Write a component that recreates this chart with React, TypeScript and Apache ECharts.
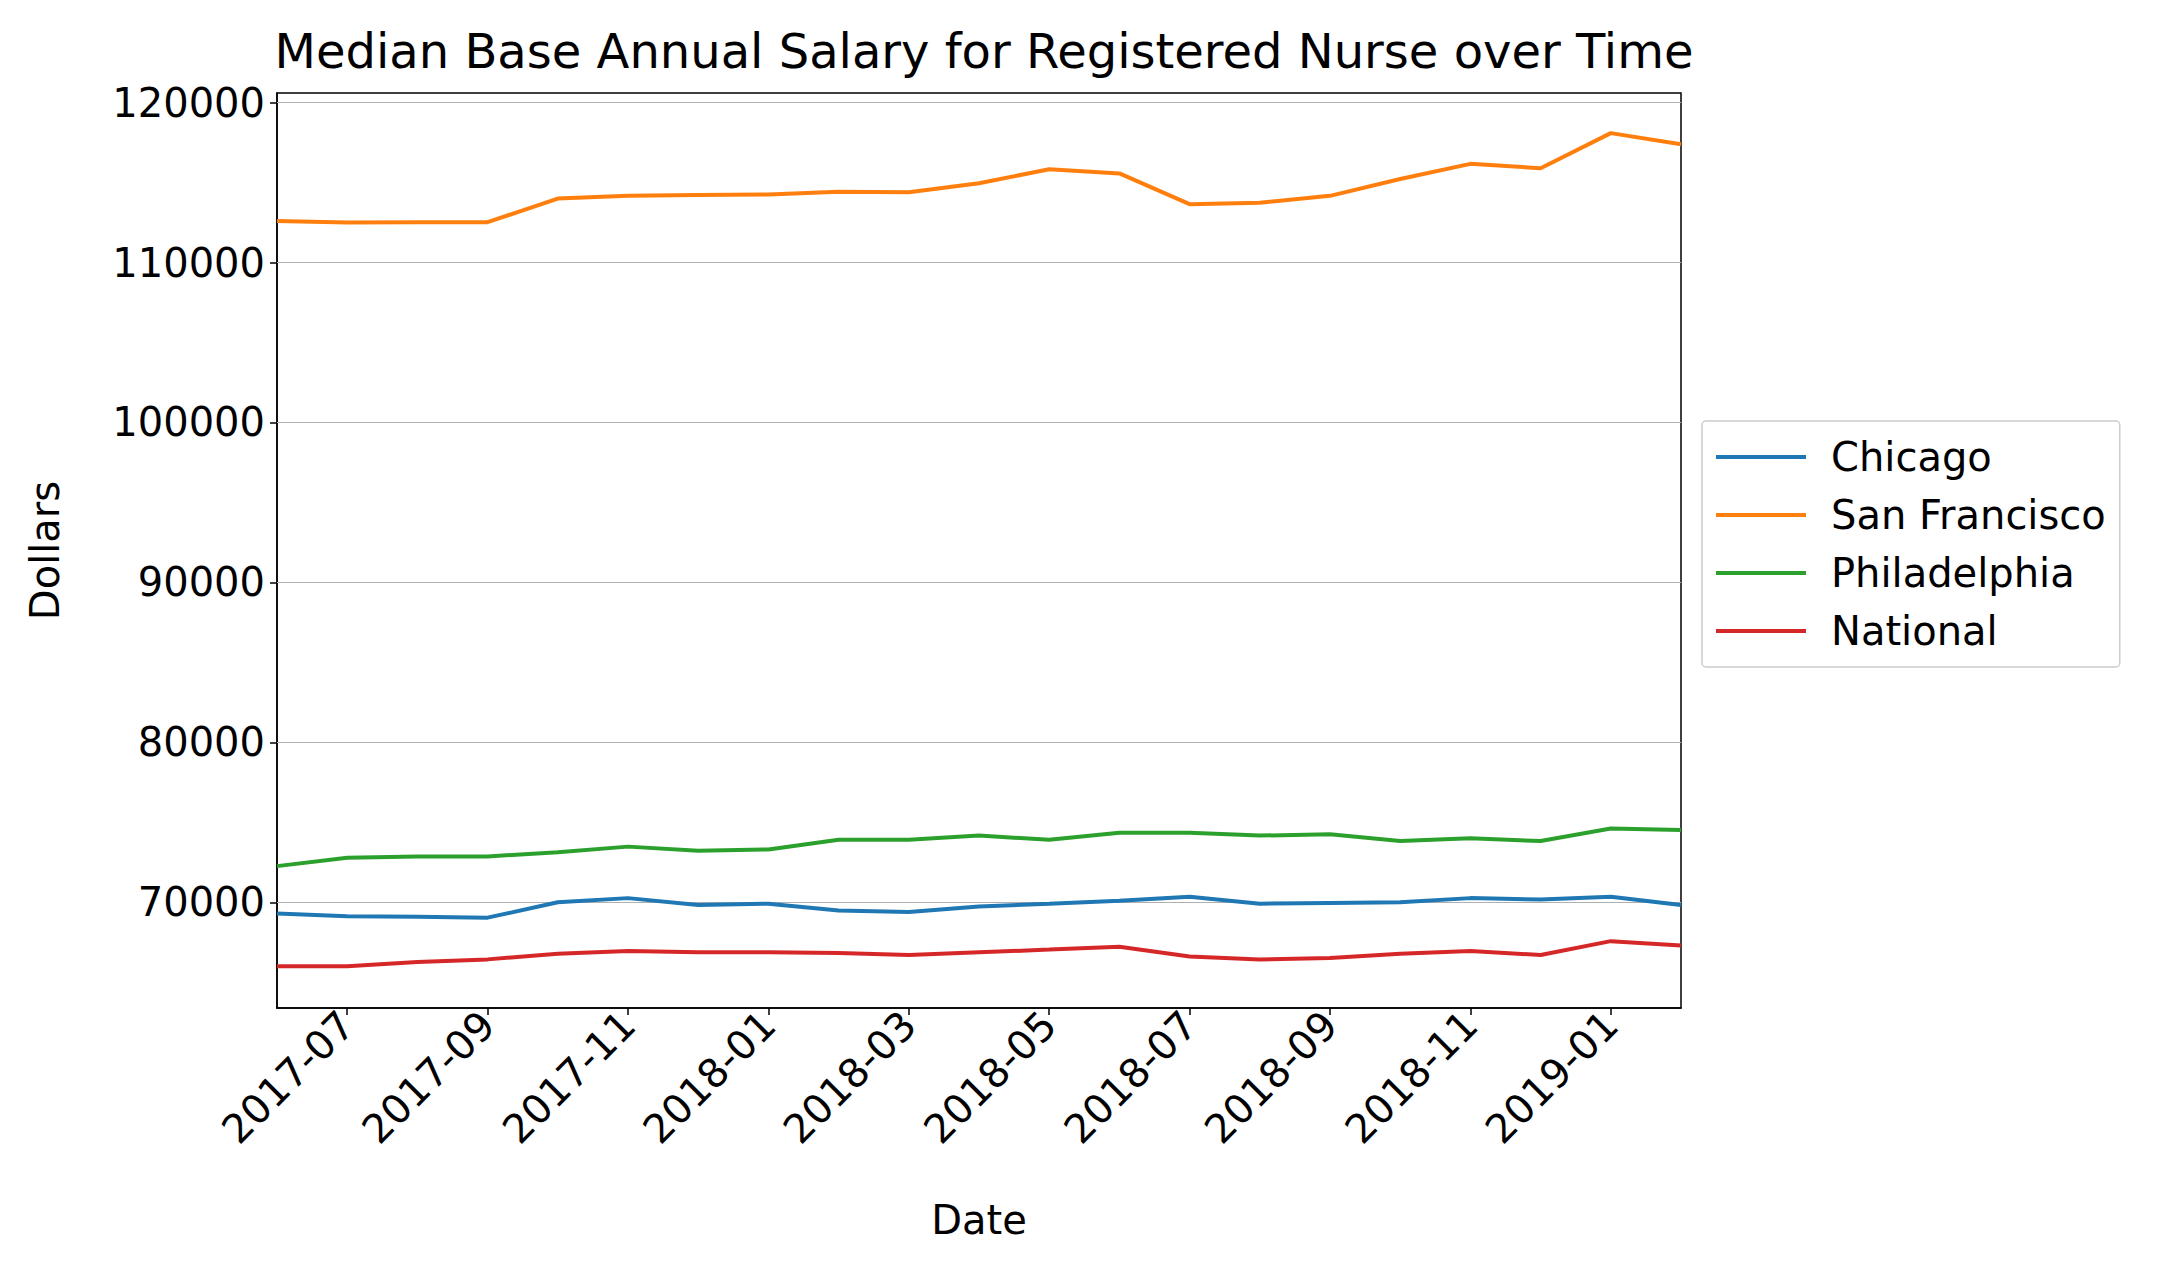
import React, { useEffect, useRef } from "react";
import * as echarts from "echarts";

const months = ["2017-06","2017-07","2017-08","2017-09","2017-10","2017-11","2017-12","2018-01","2018-02","2018-03","2018-04","2018-05","2018-06","2018-07","2018-08","2018-09","2018-10","2018-11","2018-12","2019-01","2019-02"];
const chicago = [69300,69130,69090,69040,70000,70260,69830,69910,69480,69390,69740,69910,70090,70350,69910,69960,70000,70260,70170,70350,69830];
const sanFrancisco = [112600,112500,112520,112520,114000,114170,114220,114260,114430,114400,114960,115830,115570,113650,113740,114170,115220,116170,115900,118090,117390];
const philadelphia = [72260,72780,72870,72870,73130,73480,73220,73300,73910,73910,74170,73910,74350,74350,74170,74260,73830,74000,73830,74610,74520];
const national = [66000,66000,66260,66430,66780,66960,66870,66870,66830,66700,66870,67040,67220,66610,66430,66520,66780,66960,66700,67570,67300];
const yTicks = [70000, 80000, 90000, 100000, 110000, 120000];

const FONT = "DejaVu Sans";
const FS = 40;

export default function App() {
  const ref = useRef<HTMLDivElement>(null);
  useEffect(() => {
    document.body.style.margin = "0";
    const chart = echarts.init(ref.current!, null, { renderer: "svg" });
    const mk = (name: string, data: number[], color: string, grid = false) => ({
      name, type: "line", data, symbol: "none", lineStyle: { width: 4, color }, itemStyle: { color },
      z: 3,
      ...(grid ? {
        markLine: {
          silent: true, symbol: "none", label: { show: false }, z: 1,
          lineStyle: { color: "#b0b0b0", width: 1.2, type: "solid" },
          data: yTicks.map((v) => ({ yAxis: v })),
        },
      } : {}),
    });
    const showOdd = (i: number) => i % 2 === 1;
    chart.setOption({
      animation: false,
      backgroundColor: "#fff",
      title: {
        text: "Median Base Annual Salary for Registered Nurse over Time",
        left: 979, top: 22, textAlign: "center",
        textStyle: { fontFamily: FONT, fontSize: 48, fontWeight: "normal", color: "#000" },
      },
      grid: { left: 277, right: 478, top: 93, bottom: 258, show: true, borderColor: "#000", borderWidth: 1.5, backgroundColor: "transparent" },
      legend: {
        orient: "vertical", left: 1702, top: 421,
        padding: [16, 14, 16, 14], itemGap: 18,
        borderColor: "#cccccc", borderWidth: 1.5, borderRadius: 4,
        icon: "rect", itemWidth: 90, itemHeight: 4,
        textStyle: { fontFamily: FONT, fontSize: FS, color: "#000", padding: [0, 0, 0, 20] },
        data: ["Chicago", "San Francisco", "Philadelphia", "National"],
      },
      xAxis: {
        type: "category", data: months, boundaryGap: false,
        name: "Date", nameLocation: "middle", nameGap: 192,
        nameTextStyle: { fontFamily: FONT, fontSize: FS, color: "#000" },
        axisLine: { lineStyle: { color: "#000", width: 1.5 } },
        axisTick: { interval: (i: number) => showOdd(i), length: 7, lineStyle: { color: "#000", width: 1.5 } },
        axisLabel: { interval: (i: number) => showOdd(i), rotate: 45, fontFamily: FONT, fontSize: FS, color: "#000", margin: 10 },
        splitLine: { show: false },
      },
      yAxis: {
        type: "value", min: 63390, max: 120600,
        name: "Dollars", nameLocation: "middle", nameGap: 212,
        nameTextStyle: { fontFamily: FONT, fontSize: FS, color: "#000" },
        axisLine: { show: true, lineStyle: { color: "#000", width: 1.5 } },
        axisTick: { show: true, customValues: yTicks, length: 7, lineStyle: { color: "#000", width: 1.5 } },
        axisLabel: { customValues: yTicks, formatter: (v: number) => String(v), fontFamily: FONT, fontSize: FS, color: "#000", margin: 12 },
        splitLine: { show: false },
      },
      series: [
        mk("Chicago", chicago, "#1f77b4", true),
        mk("San Francisco", sanFrancisco, "#ff7f0e"),
        mk("Philadelphia", philadelphia, "#2ca02c"),
        mk("National", national, "#d62728"),
      ],
    });
    return () => chart.dispose();
  }, []);
  return <div ref={ref} style={{ width: 2159, height: 1266 }} />;
}
